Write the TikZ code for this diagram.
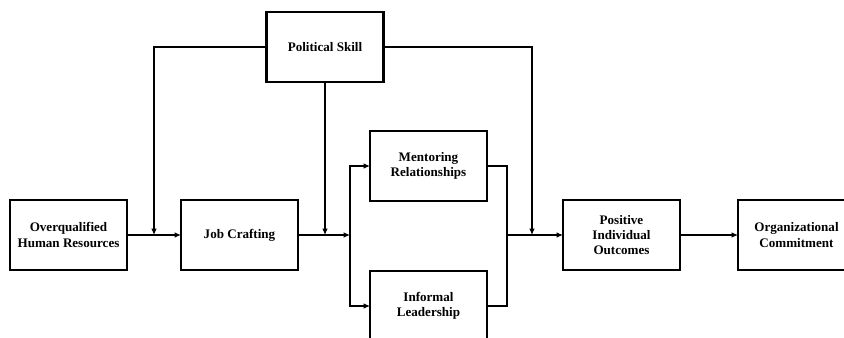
\documentclass[tikz,border=0pt]{standalone}
\usepackage{fontspec}
\setmainfont{Liberation Serif}
\usetikzlibrary{arrows.meta, positioning, calc}

\begin{document}
\begin{tikzpicture}[
		node distance=1.35cm and 1.35cm,
		box/.style={draw, line width=1.5pt, minimum width=2.925cm, minimum height=1.75cm, inner sep=2pt, outer sep=0pt, align=center, font=\bfseries\fontsize{9.3}{10.8}\selectfont},
		arrow/.style={-{Latex[length=4.5pt, width=4pt]}, line width=1.3pt},
		line/.style={line width=1.3pt}
	]
	
		\useasboundingbox (0,0) rectangle (21.1,-8.425);
		\clip (0,0) rectangle (21.1,-8.425);
	
		% Nodes
		\node[box] (oq) at (1.7125,-5.875) {Overqualified\\Human Resources};
		\node[box, right=of oq] (job) {Job Crafting};
		\node[box, above=2.95cm of job, xshift=2.1375cm] (ps) {Political Skill};
		\node[box, right=1.8cm of job, yshift=1.725cm] (ment) {Mentoring\\Relationships};
		\node[box, below=1.75cm of ment] (inf) {Informal\\Leadership};
		\node[box, right=6.625cm of job] (pos) {Positive\\Individual\\Outcomes};
		\node[box, right=1.45cm of pos] (org) {Organizational\\Commitment};
		
		% Helper points
		\coordinate[right=1.3cm of job.east] (split);
		\coordinate[right=0.5cm of ment.east] (join);
		
		% Arrows
		\draw[arrow] (oq) -- (job);
		\draw[arrow] (job.east) -- (split);
		\draw[arrow] (split) |- (ment.west);
		\draw[arrow] (split) |- (inf.west);
		\draw[line] (ment.east) -- (join) |- (inf.east);
		\draw[arrow] (join |- pos.west) -- (pos.west);
		\draw[arrow] (pos) -- (org);
		
		% Moderators
		\draw[arrow] (ps.west) -| ($(oq.east)!0.5!(job.west)$);
		\draw[arrow] (ps.south) -- (ps.south |- job.east);
		\draw[arrow] (ps.east) -| ([xshift=-0.075cm]$(join |- pos.west)!0.5!(pos.west)$);
		
	\end{tikzpicture}
\end{document}
